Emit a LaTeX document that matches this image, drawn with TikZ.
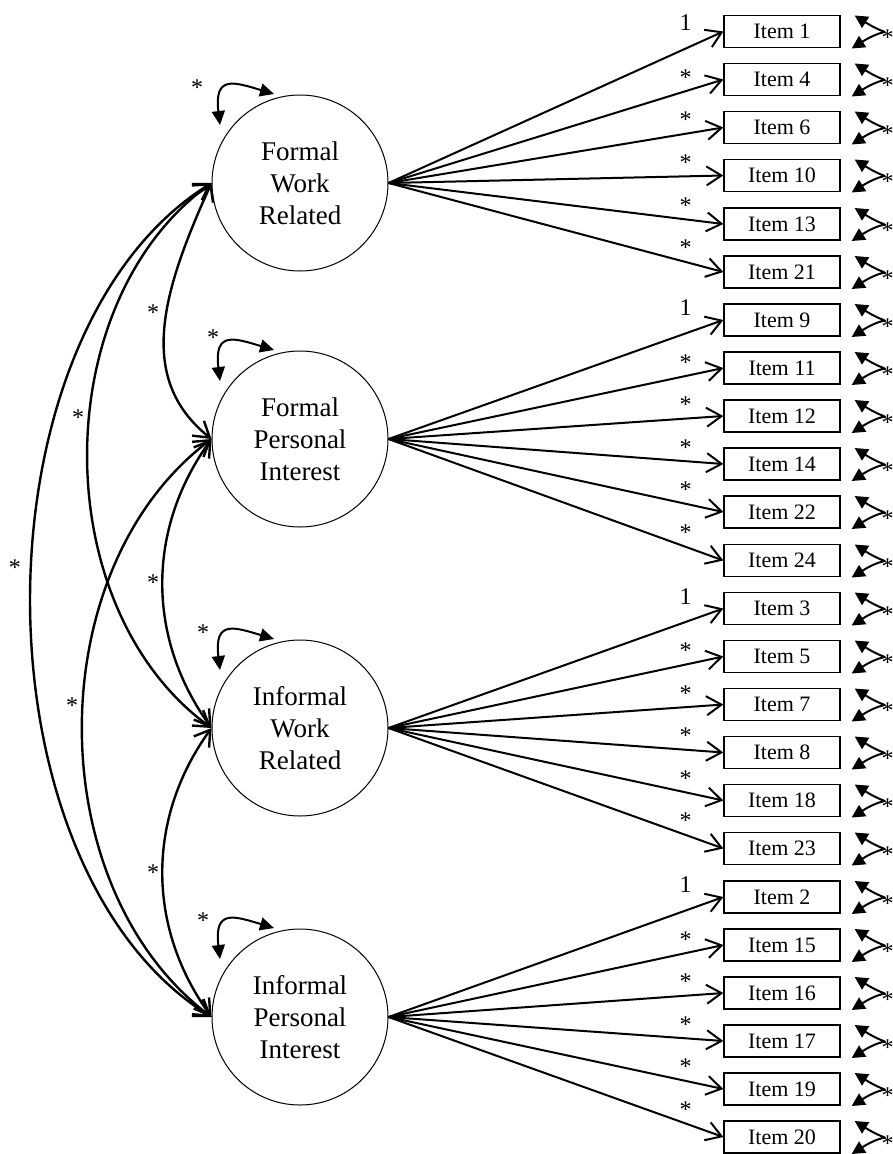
\documentclass[tikz,border=0pt]{standalone}
\usepackage{fontspec}
\setmainfont{Liberation Serif}
\usetikzlibrary{arrows.meta}

\begin{document}
\begin{tikzpicture}[x = 1pt, y = -1pt,
  factor/.style = {draw, circle, line width = 1pt, minimum size = 176pt, inner sep = 0pt, align = center, font = \fontsize{27}{32}\selectfont},
  item/.style = {draw, line width = 1.3pt, minimum width = 116pt, minimum height = 32pt, inner sep = 0pt, font = \fontsize{22}{26}\selectfont},
  load/.style = {line width = 2pt, -{Straight Barb[length = 15pt, width = 19pt]}},
  covar/.style = {line width = 2.4pt, {Straight Barb[length = 15pt, width = 19pt]}-{Straight Barb[length = 15pt, width = 19pt]}},
  vari/.style = {line width = 2pt, {Triangle[length = 14pt, width = 13pt]}-{Triangle[length = 14pt, width = 13pt]}},
  resid/.style = {line width = 2pt, {Triangle[length = 13pt, width = 13pt]}-{Triangle[length = 13pt, width = 13pt]}},
  star/.style = {inner sep = 0pt, font = \fontsize{24}{28}\selectfont},
  lbl/.style = {above = 5pt, inner sep = 0pt, pos = 0.887, font = \fontsize{24}{28}\selectfont}]
\useasboundingbox (0, 0) rectangle (893, 1154);

% factors
\node[factor] (fwr) at (300, 183) {Formal\\Work\\Related};
\node[factor] (fpi) at (300, 439) {Formal\\Personal\\Interest};
\node[factor] (iwr) at (300, 728) {Informal\\Work\\Related};
\node[factor] (ipi) at (300, 1017) {Informal\\Personal\\Interest};

% items
\node[item] (i1) at (782, 31.5) {Item 1};
\node[item] (i4) at (782, 79.5) {Item 4};
\node[item] (i6) at (782, 127.5) {Item 6};
\node[item] (i10) at (782, 175.5) {Item 10};
\node[item] (i13) at (782, 224) {Item 13};
\node[item] (i21) at (782, 272) {Item 21};
\node[item] (i9) at (782, 320) {Item 9};
\node[item] (i11) at (782, 368) {Item 11};
\node[item] (i12) at (782, 416) {Item 12};
\node[item] (i14) at (782, 464) {Item 14};
\node[item] (i22) at (782, 512) {Item 22};
\node[item] (i24) at (782, 560.5) {Item 24};
\node[item] (i3) at (782, 608.5) {Item 3};
\node[item] (i5) at (782, 656.5) {Item 5};
\node[item] (i7) at (782, 704.5) {Item 7};
\node[item] (i8) at (782, 752.5) {Item 8};
\node[item] (i18) at (782, 800.5) {Item 18};
\node[item] (i23) at (782, 848.5) {Item 23};
\node[item] (i2) at (782, 897) {Item 2};
\node[item] (i15) at (782, 945) {Item 15};
\node[item] (i16) at (782, 993) {Item 16};
\node[item] (i17) at (782, 1041) {Item 17};
\node[item] (i19) at (782, 1089) {Item 19};
\node[item] (i20) at (782, 1137) {Item 20};

% loadings
\draw[load] (fwr.east) -- (i1.west) node[lbl, above = 12pt] {1};
\draw[load] (fwr.east) -- (i4.west) node[lbl] {*};
\draw[load] (fwr.east) -- (i6.west) node[lbl] {*};
\draw[load] (fwr.east) -- (i10.west) node[lbl] {*};
\draw[load] (fwr.east) -- (i13.west) node[lbl] {*};
\draw[load] (fwr.east) -- (i21.west) node[lbl] {*};
\draw[load] (fpi.east) -- (i9.west) node[lbl, above = 12pt] {1};
\draw[load] (fpi.east) -- (i11.west) node[lbl] {*};
\draw[load] (fpi.east) -- (i12.west) node[lbl] {*};
\draw[load] (fpi.east) -- (i14.west) node[lbl] {*};
\draw[load] (fpi.east) -- (i22.west) node[lbl] {*};
\draw[load] (fpi.east) -- (i24.west) node[lbl] {*};
\draw[load] (iwr.east) -- (i3.west) node[lbl, above = 12pt] {1};
\draw[load] (iwr.east) -- (i5.west) node[lbl] {*};
\draw[load] (iwr.east) -- (i7.west) node[lbl] {*};
\draw[load] (iwr.east) -- (i8.west) node[lbl] {*};
\draw[load] (iwr.east) -- (i18.west) node[lbl] {*};
\draw[load] (iwr.east) -- (i23.west) node[lbl] {*};
\draw[load] (ipi.east) -- (i2.west) node[lbl, above = 12pt] {1};
\draw[load] (ipi.east) -- (i15.west) node[lbl] {*};
\draw[load] (ipi.east) -- (i16.west) node[lbl] {*};
\draw[load] (ipi.east) -- (i17.west) node[lbl] {*};
\draw[load] (ipi.east) -- (i19.west) node[lbl] {*};
\draw[load] (ipi.east) -- (i20.west) node[lbl] {*};

% residuals
\draw[resid] ([shift = {(14, -16)}]i1.east) .. controls +(38, 24) and +(38, -24) .. ([shift = {(11, 17)}]i1.east) node[star, pos = 0.5, right = -1pt, yshift = -6pt] {*};
\draw[resid] ([shift = {(14, -16)}]i4.east) .. controls +(38, 24) and +(38, -24) .. ([shift = {(11, 17)}]i4.east) node[star, pos = 0.5, right = -1pt, yshift = -6pt] {*};
\draw[resid] ([shift = {(14, -16)}]i6.east) .. controls +(38, 24) and +(38, -24) .. ([shift = {(11, 17)}]i6.east) node[star, pos = 0.5, right = -1pt, yshift = -6pt] {*};
\draw[resid] ([shift = {(14, -16)}]i10.east) .. controls +(38, 24) and +(38, -24) .. ([shift = {(11, 17)}]i10.east) node[star, pos = 0.5, right = -1pt, yshift = -6pt] {*};
\draw[resid] ([shift = {(14, -16)}]i13.east) .. controls +(38, 24) and +(38, -24) .. ([shift = {(11, 17)}]i13.east) node[star, pos = 0.5, right = -1pt, yshift = -6pt] {*};
\draw[resid] ([shift = {(14, -16)}]i21.east) .. controls +(38, 24) and +(38, -24) .. ([shift = {(11, 17)}]i21.east) node[star, pos = 0.5, right = -1pt, yshift = -6pt] {*};
\draw[resid] ([shift = {(14, -16)}]i9.east) .. controls +(38, 24) and +(38, -24) .. ([shift = {(11, 17)}]i9.east) node[star, pos = 0.5, right = -1pt, yshift = -6pt] {*};
\draw[resid] ([shift = {(14, -16)}]i11.east) .. controls +(38, 24) and +(38, -24) .. ([shift = {(11, 17)}]i11.east) node[star, pos = 0.5, right = -1pt, yshift = -6pt] {*};
\draw[resid] ([shift = {(14, -16)}]i12.east) .. controls +(38, 24) and +(38, -24) .. ([shift = {(11, 17)}]i12.east) node[star, pos = 0.5, right = -1pt, yshift = -6pt] {*};
\draw[resid] ([shift = {(14, -16)}]i14.east) .. controls +(38, 24) and +(38, -24) .. ([shift = {(11, 17)}]i14.east) node[star, pos = 0.5, right = -1pt, yshift = -6pt] {*};
\draw[resid] ([shift = {(14, -16)}]i22.east) .. controls +(38, 24) and +(38, -24) .. ([shift = {(11, 17)}]i22.east) node[star, pos = 0.5, right = -1pt, yshift = -6pt] {*};
\draw[resid] ([shift = {(14, -16)}]i24.east) .. controls +(38, 24) and +(38, -24) .. ([shift = {(11, 17)}]i24.east) node[star, pos = 0.5, right = -1pt, yshift = -6pt] {*};
\draw[resid] ([shift = {(14, -16)}]i3.east) .. controls +(38, 24) and +(38, -24) .. ([shift = {(11, 17)}]i3.east) node[star, pos = 0.5, right = -1pt, yshift = -6pt] {*};
\draw[resid] ([shift = {(14, -16)}]i5.east) .. controls +(38, 24) and +(38, -24) .. ([shift = {(11, 17)}]i5.east) node[star, pos = 0.5, right = -1pt, yshift = -6pt] {*};
\draw[resid] ([shift = {(14, -16)}]i7.east) .. controls +(38, 24) and +(38, -24) .. ([shift = {(11, 17)}]i7.east) node[star, pos = 0.5, right = -1pt, yshift = -6pt] {*};
\draw[resid] ([shift = {(14, -16)}]i8.east) .. controls +(38, 24) and +(38, -24) .. ([shift = {(11, 17)}]i8.east) node[star, pos = 0.5, right = -1pt, yshift = -6pt] {*};
\draw[resid] ([shift = {(14, -16)}]i18.east) .. controls +(38, 24) and +(38, -24) .. ([shift = {(11, 17)}]i18.east) node[star, pos = 0.5, right = -1pt, yshift = -6pt] {*};
\draw[resid] ([shift = {(14, -16)}]i23.east) .. controls +(38, 24) and +(38, -24) .. ([shift = {(11, 17)}]i23.east) node[star, pos = 0.5, right = -1pt, yshift = -6pt] {*};
\draw[resid] ([shift = {(14, -16)}]i2.east) .. controls +(38, 24) and +(38, -24) .. ([shift = {(11, 17)}]i2.east) node[star, pos = 0.5, right = -1pt, yshift = -6pt] {*};
\draw[resid] ([shift = {(14, -16)}]i15.east) .. controls +(38, 24) and +(38, -24) .. ([shift = {(11, 17)}]i15.east) node[star, pos = 0.5, right = -1pt, yshift = -6pt] {*};
\draw[resid] ([shift = {(14, -16)}]i16.east) .. controls +(38, 24) and +(38, -24) .. ([shift = {(11, 17)}]i16.east) node[star, pos = 0.5, right = -1pt, yshift = -6pt] {*};
\draw[resid] ([shift = {(14, -16)}]i17.east) .. controls +(38, 24) and +(38, -24) .. ([shift = {(11, 17)}]i17.east) node[star, pos = 0.5, right = -1pt, yshift = -6pt] {*};
\draw[resid] ([shift = {(14, -16)}]i19.east) .. controls +(38, 24) and +(38, -24) .. ([shift = {(11, 17)}]i19.east) node[star, pos = 0.5, right = -1pt, yshift = -6pt] {*};
\draw[resid] ([shift = {(14, -16)}]i20.east) .. controls +(38, 24) and +(38, -24) .. ([shift = {(11, 17)}]i20.east) node[star, pos = 0.5, right = -1pt, yshift = -6pt] {*};

% factor variances
\draw[vari] ([shift = {(-80, -58)}]fwr.center) .. controls +(-6, -50) and +(-40, -12) .. ([shift = {(-26, -89)}]fwr.center);
\draw[vari] ([shift = {(-80, -58)}]fpi.center) .. controls +(-6, -50) and +(-40, -12) .. ([shift = {(-26, -89)}]fpi.center);
\draw[vari] ([shift = {(-80, -58)}]iwr.center) .. controls +(-6, -50) and +(-40, -12) .. ([shift = {(-26, -89)}]iwr.center);
\draw[vari] ([shift = {(-80, -58)}]ipi.center) .. controls +(-6, -50) and +(-40, -12) .. ([shift = {(-26, -89)}]ipi.center);
\node[star] (vfwr) at ([shift = {(-103, -95)}]fwr.center) {*};
\node[star] (vfpi) at ([shift = {(-87, -101)}]fpi.center) {*};
\node[star] (viwr) at ([shift = {(-97, -95)}]iwr.center) {*};
\node[star] (vipi) at ([shift = {(-97, -96)}]ipi.center) {*};

% covariances
\draw[covar] (fwr.west) .. controls +(-50, 110) and +(-75, -60) .. (fpi.west);
\draw[covar] (fpi.west) .. controls +(-65, 90) and +(-65, -90) .. (iwr.west);
\draw[covar] (iwr.west) .. controls +(-65, 90) and +(-65, -90) .. (ipi.west);
\draw[covar] (fwr.west) .. controls +(-165, 120) and +(-165, -120) .. (iwr.west);
\draw[covar] (fpi.west) .. controls +(-172, 130) and +(-172, -130) .. (ipi.west);
\draw[covar] (fwr.west) .. controls +(-241, 150) and +(-241, -150) .. (ipi.west);
\node[star] (c12) at (153, 313) {*};
\node[star] (c23) at (153, 583) {*};
\node[star] (c34) at (153, 873) {*};
\node[star] (c13) at (78, 418) {*};
\node[star] (c24) at (72, 706) {*};
\node[star] (c14) at (15, 568) {*};
\end{tikzpicture}
\end{document}
